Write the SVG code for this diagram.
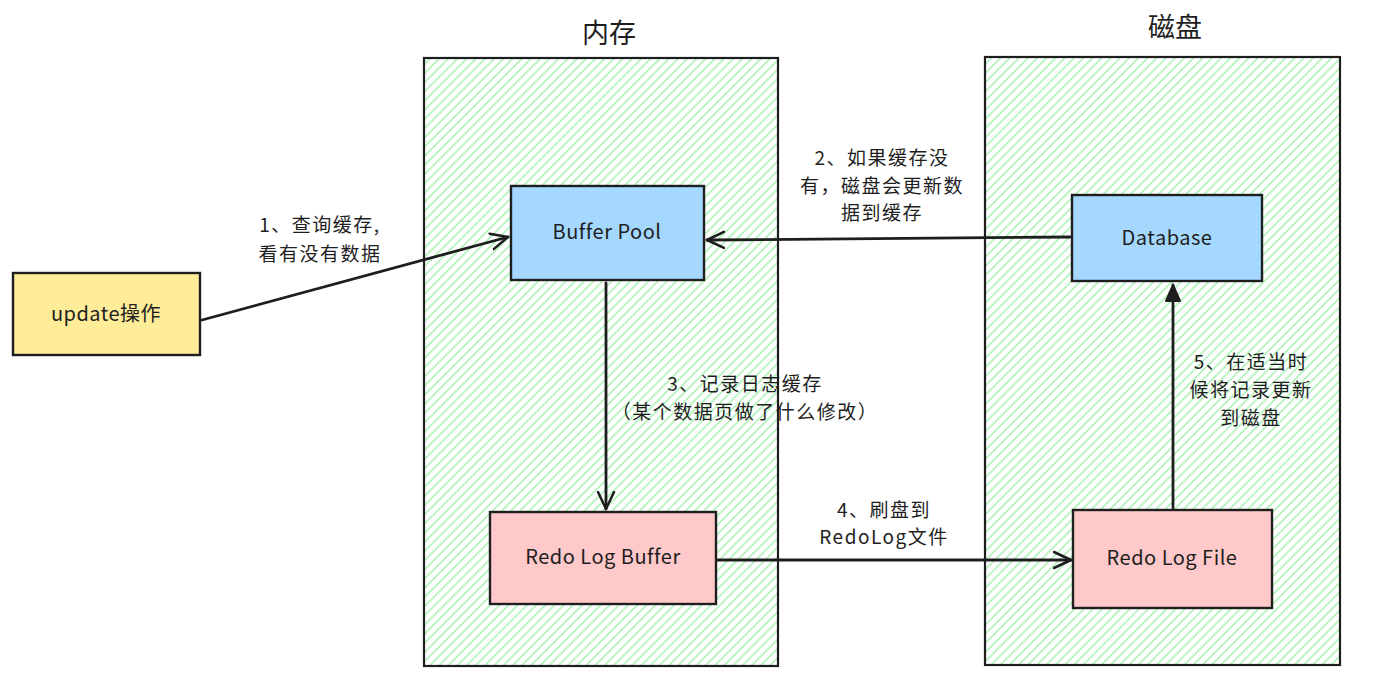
<svg xmlns="http://www.w3.org/2000/svg" width="1377" height="683" viewBox="0 0 1377 683">
<defs>
<pattern id="hatch" patternUnits="userSpaceOnUse" width="6.5" height="10" patternTransform="rotate(45)">
<line x1="1" y1="0" x2="1" y2="10" stroke="#b2f2bb" stroke-width="1.7"/>
</pattern>
<marker id="arr" viewBox="0 0 20 20" refX="18" refY="10" markerWidth="20" markerHeight="20" markerUnits="userSpaceOnUse" orient="auto">
<path d="M1,2 L18,10 L1,18" fill="none" stroke="#1e1e1e" stroke-width="2.5" stroke-linecap="round" stroke-linejoin="round"/>
</marker>
<marker id="arr2" viewBox="0 0 20 20" refX="18" refY="10" markerWidth="20" markerHeight="20" markerUnits="userSpaceOnUse" orient="auto">
<path d="M2,3 L18,10 L2,17 Z" fill="#1e1e1e" stroke="#1e1e1e" stroke-width="2" stroke-linejoin="round"/>
</marker>
</defs>
<style>
.cont{fill:url(#hatch);stroke:#1e1e1e;stroke-width:2.2}
.node{stroke:#1e1e1e;stroke-width:2.4}
.blue{fill:#a5d8ff}
.yellow{fill:#ffec99}
.pink{fill:#ffc9c9}
.t{font-family:"Noto Sans CJK SC","Liberation Sans",sans-serif;fill:#1e1e1e;text-anchor:middle}
.nt{font-size:20px;letter-spacing:0.5px}
.lt{font-size:19px;letter-spacing:1.5px}
.title{font-size:27px}
.conn{fill:none;stroke:#1e1e1e;stroke-width:2.8;stroke-linecap:round}
</style>
<rect width="1377" height="683" fill="#ffffff"/>
<g id="memory">
<rect class="cont" x="424" y="58" width="354" height="608"/>
<text class="t title" x="609" y="43">内存</text>
</g>
<g id="disk">
<rect class="cont" x="985" y="57" width="355" height="608"/>
<text class="t title" x="1175" y="37">磁盘</text>
</g>
<g id="connectors">
<path class="conn" d="M202,320 L508,237" marker-end="url(#arr)"/>
<path class="conn" d="M1070,237 L707,240" marker-end="url(#arr)"/>
<path class="conn" d="M606,283 L606,509" marker-end="url(#arr)"/>
<path class="conn" d="M718,560 L1071,560" marker-end="url(#arr)"/>
<path class="conn" d="M1173,508 L1173,285" marker-end="url(#arr2)"/>
</g>
<g id="update">
<rect class="node yellow" x="13" y="273" width="187" height="82"/>
<text class="t nt" x="106" y="321">update操作</text>
</g>
<g id="bufferpool">
<rect class="node blue" x="511" y="186" width="193" height="94"/>
<text class="t nt" x="607" y="239">Buffer Pool</text>
</g>
<g id="database">
<rect class="node blue" x="1072" y="195" width="190" height="86"/>
<text class="t nt" x="1167" y="245">Database</text>
</g>
<g id="redologbuffer">
<rect class="node pink" x="490" y="512" width="226" height="92"/>
<text class="t nt" x="603" y="564">Redo Log Buffer</text>
</g>
<g id="redologfile">
<rect class="node pink" x="1073" y="510" width="199" height="98"/>
<text class="t nt" x="1172" y="565">Redo Log File</text>
</g>
<g id="labels">
<text class="t lt" x="320" y="232">1、查询缓存,</text>
<text class="t lt" x="320" y="261">看有没有数据</text>
<text class="t lt" x="882" y="165">2、如果缓存没</text>
<text class="t lt" x="882" y="193">有，磁盘会更新数</text>
<text class="t lt" x="882" y="220">据到缓存</text>
<text class="t lt" x="745" y="391">3、记录日志缓存</text>
<text class="t lt" x="745" y="419">（某个数据页做了什么修改）</text>
<text class="t lt" x="884" y="517">4、刷盘到</text>
<text class="t lt" x="884" y="544">RedoLog文件</text>
<text class="t lt" x="1251" y="369">5、在适当时</text>
<text class="t lt" x="1251" y="397">候将记录更新</text>
<text class="t lt" x="1251" y="425">到磁盘</text>
</g>
</svg>
